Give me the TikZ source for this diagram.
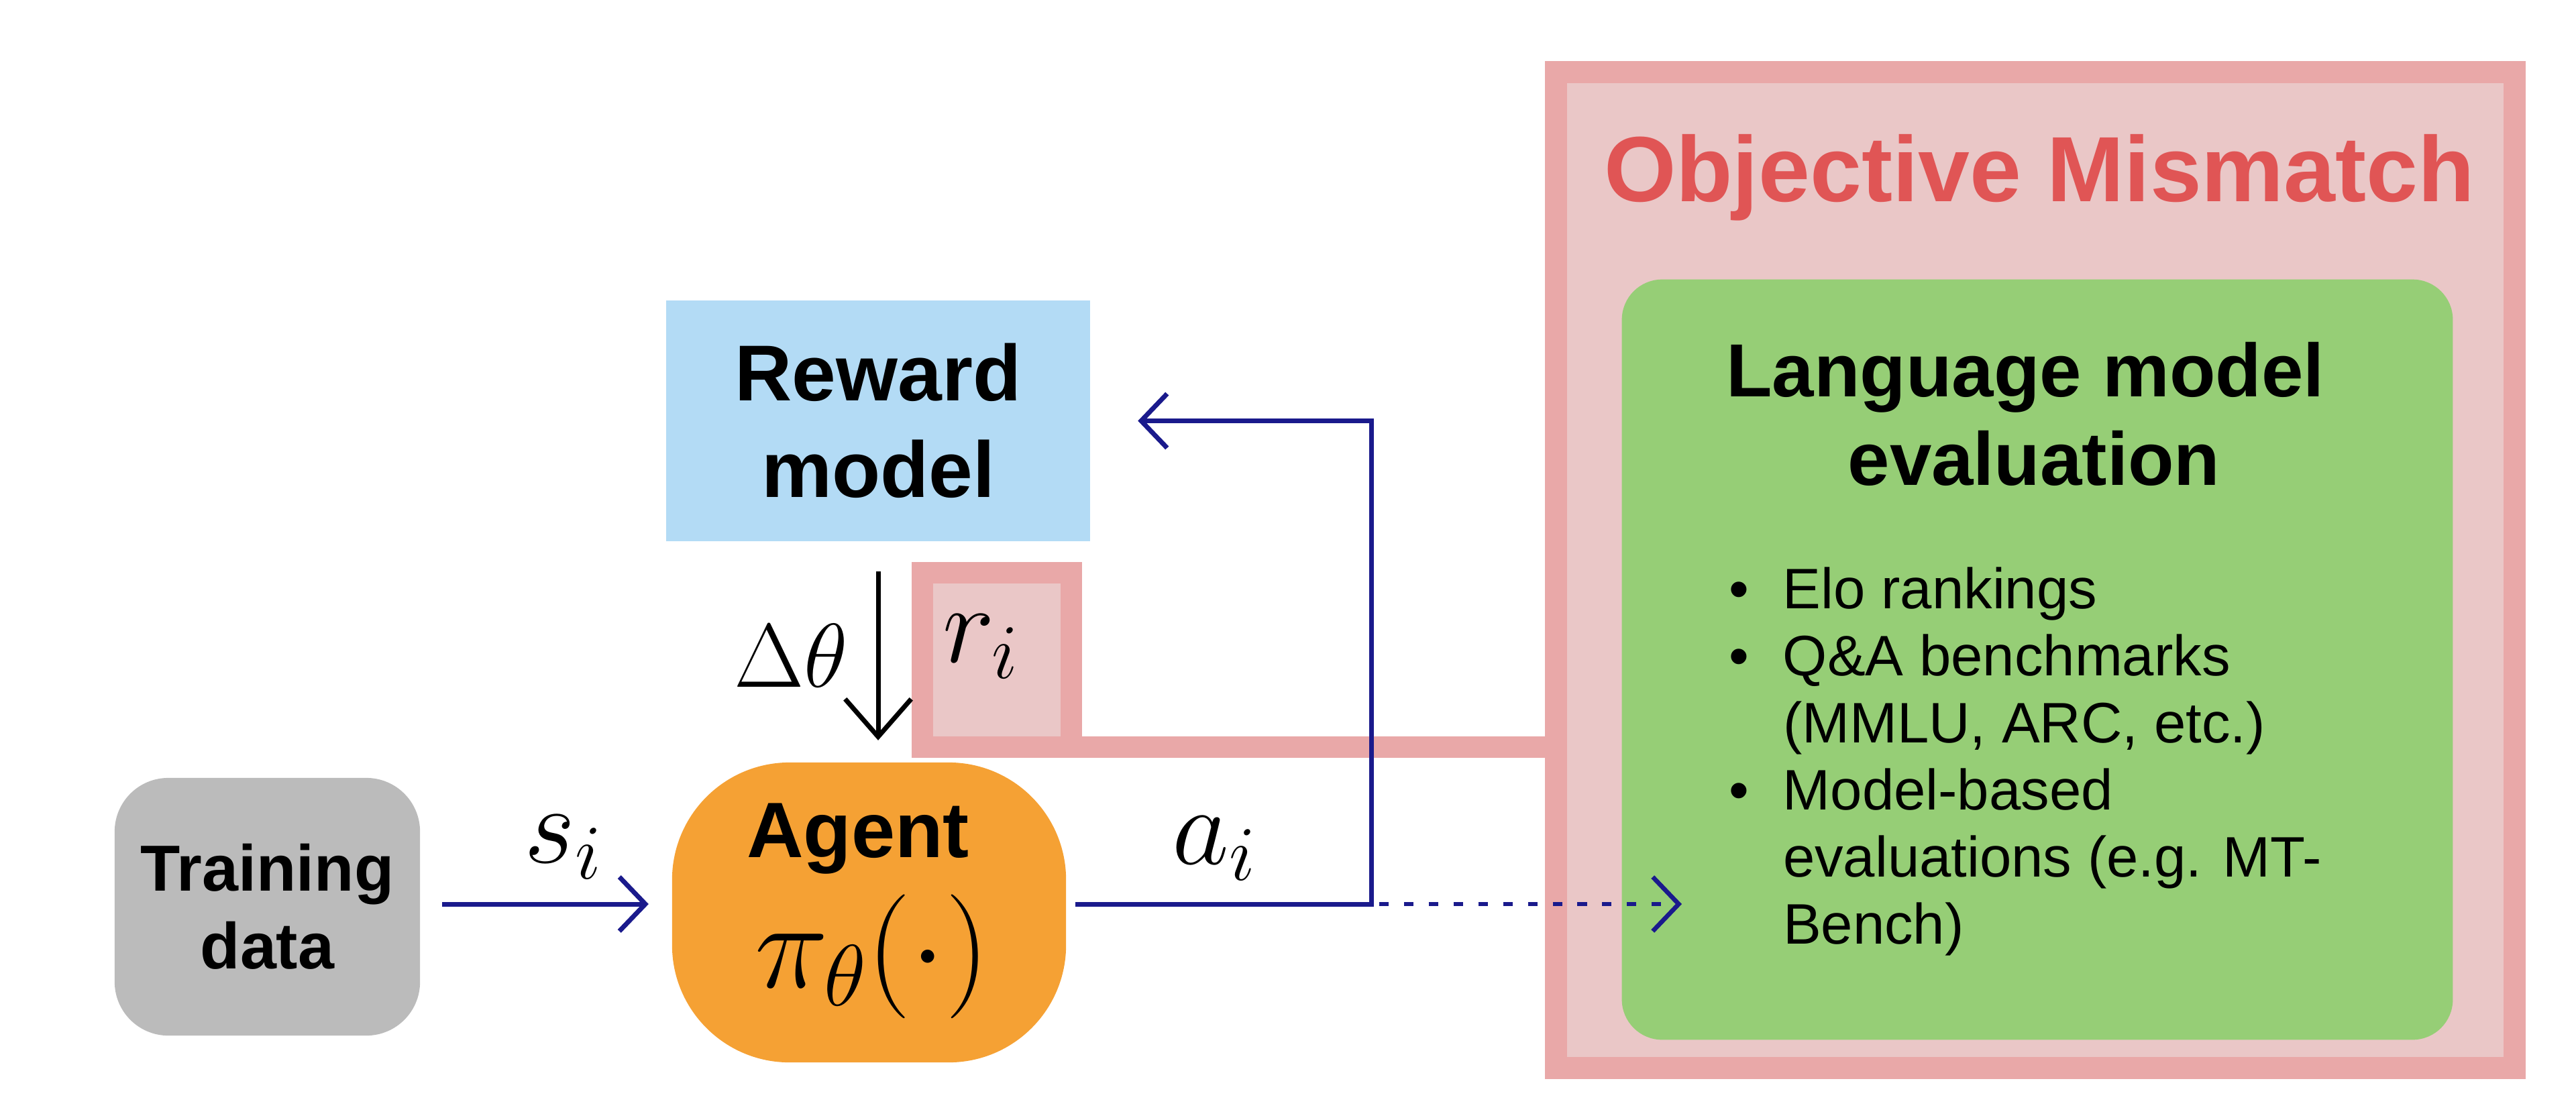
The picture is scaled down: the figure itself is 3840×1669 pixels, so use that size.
\RequirePackage{fix-cm}
\documentclass[tikz,border=0pt]{standalone}
\usepackage{fontspec}
\setmainfont{Liberation Sans}
\usetikzlibrary{arrows.meta,calc}
\definecolor{pinkB}{RGB}{233,168,168}
\definecolor{pinkF}{RGB}{234,199,199}
\definecolor{greenF}{RGB}{150,206,118}
\definecolor{blueF}{RGB}{179,219,245}
\definecolor{orangeF}{RGB}{245,161,52}
\definecolor{grayF}{RGB}{187,187,187}
\definecolor{navy}{RGB}{26,26,140}
\definecolor{titleRed}{RGB}{224,85,85}
\newcommand\fsz[2]{\fontsize{#1}{#2}\selectfont}
\newcommand\bul{\makebox[23pt][l]{\textbullet}}
\begin{document}
\begin{tikzpicture}[x=0.01cm,y=-0.01cm,
  txt/.style={inner sep=0pt, outer sep=0pt},
  boxnode/.style={inner sep=0pt, outer sep=0pt, align=center},
  lst/.style={txt, anchor=base west, font=\fsz{24.2}{29}},
  conn/.style={draw=navy, line width=2pt, -{Straight Barb[length=11pt,width=23pt]}},
  dconn/.style={conn, line width=1.9pt, dash pattern=on 4pt off 6.5pt},
  blackarrow/.style={draw=black, line width=2pt, -{Straight Barb[length=16pt,width=28pt]}},
  pinkbar/.style={draw=pinkB, line width=9.1pt}]
\useasboundingbox (0,0) rectangle (3840,1669);

% big objective mismatch box
\node[boxnode, draw=pinkB, fill=pinkF, line width=9.4pt, minimum width=14.28cm, minimum height=14.84cm] (big) at (3034,850) {};
\node[txt, anchor=base, font=\bfseries\fsz{39.3}{47}, text=titleRed] (title) at (3040,300) {Objective Mismatch};

% green evaluation box
\node[boxnode, fill=greenF, rounded corners=0.6cm, minimum width=12.38cm, minimum height=11.33cm] (green) at (3037,983.5) {};
\node[txt, anchor=base, font=\bfseries\fsz{31.9}{38}] (lm1) at (3019,591) {Language model};
\node[txt, anchor=base, font=\bfseries\fsz{31.9}{38}] (lm2) at (3032,723) {evaluation};
\node[lst] (l1) at (2577,907) {\bul Elo rankings};
\node[lst] (l2) at (2577,1007) {\bul Q\&A benchmarks};
\node[lst] (l3) at (2658,1107) {(MMLU, ARC, etc.)};
\node[lst] (l4) at (2577,1207) {\bul Model-based};
\node[lst] (l5) at (2658,1307) {evaluations (e.g. MT-};
\node[lst] (l6) at (2658,1407) {Bench)};

% r_i box and bar
\node[boxnode, draw=pinkB, fill=pinkF, line width=9.1pt, minimum width=2.22cm, minimum height=2.6cm] (ri) at (1486,984) {};
\draw[pinkbar] (ri.south east) -- (ri.south east -| big.west);
\node[txt, anchor=base, font=\fsz{46.9}{56}] (rilbl) at (1462,987) {$r_i$};

% reward model
\node[boxnode, fill=blueF, minimum width=6.32cm, minimum height=3.59cm, font=\bfseries\fsz{33.6}{41}] (reward) at (1309,627.5) {Reward\\model};

% training data
\node[boxnode, fill=grayF, rounded corners=0.8cm, minimum width=4.55cm, minimum height=3.84cm, font=\bfseries\fsz{27.6}{33}] (train) at (398.5,1352) {Training\\data};

% agent
\node[boxnode, fill=orangeF, rounded corners=1.75cm, minimum width=5.87cm, minimum height=4.47cm] (agent) at (1295.5,1360.5) {};
\node[txt, anchor=base, font=\bfseries\fsz{33.3}{40}] (agentlbl) at (1279,1278) {Agent};
\node[txt, anchor=base, font=\fsz{52.6}{60}] (pol) at (1300,1472) {$\pi_\theta(\cdot)$};

% delta theta arrow
\draw[blackarrow, shorten <=0.45cm, shorten >=0.33cm] (reward.south) -- (reward.south |- agent.north);
\node[txt, anchor=base, font=\fsz{38.4}{46}] (dtheta) at (1179,1024) {$\Delta\theta$};

% connectors
\coordinate (junc) at (2044,1348);
\coordinate (evtip) at (2507,1348);
\draw[conn, shorten <=0.33cm, shorten >=0.35cm] (train.east |- junc) -- (agent.west |- junc);
\draw[conn, shorten <=0.14cm, shorten >=0.71cm] (agent.east |- junc) -- (junc) |- (reward.east);
\draw[dconn, shorten <=0.12cm] (junc) -- (evtip);

\node[txt, anchor=base, font=\fsz{46.9}{56}] (silbl) at (840,1286) {$s_i$};
\node[txt, anchor=base, font=\fsz{46.9}{56}] (ailbl) at (1810,1288) {$a_i$};
\end{tikzpicture}
\end{document}
